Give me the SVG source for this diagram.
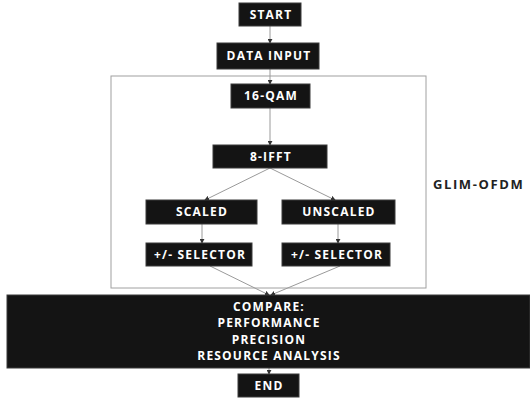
<svg xmlns="http://www.w3.org/2000/svg" width="530" height="403" viewBox="0 0 530 403">
<defs>
<style>
.box{fill:#141414;stroke:#3a3a3a;stroke-width:1}
.t{fill:#fff;font-family:"Open Sans","Liberation Sans",sans-serif;font-weight:bold;font-size:12px;letter-spacing:1.2px;text-anchor:middle}
.c{stroke:#9a9a9a;stroke-width:1;fill:none;marker-end:url(#ah)}
</style>
<marker id="ah" viewBox="0 0 6 6" refX="5" refY="3" markerWidth="5" markerHeight="5" orient="auto-start-reverse"><path d="M0,0 L6,3 L0,6 z" fill="#333"/></marker>
</defs>
<rect width="530" height="403" fill="#fff"/>
<rect id="container" x="111" y="76" width="315" height="212" fill="none" stroke="#a0a0a0" stroke-width="1"/>
<g id="connectors">
<path class="c" d="M270,26 V43"/>
<path class="c" d="M270,69 V84"/>
<path class="c" d="M270,108 V145"/>
<path class="c" d="M270,168 L205,200"/>
<path class="c" d="M270,168 L335,200"/>
<path class="c" d="M202,224 V243"/>
<path class="c" d="M338,224 V243"/>
<path class="c" d="M210,266 L269,295"/>
<path class="c" d="M340,266 L271,295"/>
<path class="c" d="M269,368 V374"/>
</g>
<g id="start"><rect class="box" x="239" y="3" width="62" height="23"/><text class="t" x="271" y="19">START</text></g>
<g id="data-input"><rect class="box" x="217" y="43" width="102" height="26"/><text class="t" x="269" y="60">DATA INPUT</text></g>
<g id="qam"><rect class="box" x="231" y="84" width="79" height="24"/><text class="t" x="271" y="100">16-QAM</text></g>
<g id="ifft"><rect class="box" x="213" y="145" width="114" height="23"/><text class="t" x="271" y="161">8-IFFT</text></g>
<g id="scaled"><rect class="box" x="146" y="200" width="111" height="24"/><text class="t" x="202" y="216">SCALED</text></g>
<g id="unscaled"><rect class="box" x="282" y="200" width="113" height="24"/><text class="t" x="339" y="216">UNSCALED</text></g>
<g id="sel-left"><rect class="box" x="146" y="243" width="106" height="23"/><text class="t" x="200" y="259">+/- SELECTOR</text></g>
<g id="sel-right"><rect class="box" x="282" y="243" width="108" height="23"/><text class="t" x="337" y="259">+/- SELECTOR</text></g>
<g id="compare"><rect class="box" x="7" y="295" width="523" height="73"/>
<text class="t" x="269" y="311">COMPARE:</text>
<text class="t" x="269" y="327">PERFORMANCE</text>
<text class="t" x="269" y="344">PRECISION</text>
<text class="t" x="269" y="360">RESOURCE ANALYSIS</text></g>
<g id="end"><rect class="box" x="238" y="374" width="61" height="23"/><text class="t" x="269" y="390">END</text></g>
<text id="glim" x="433" y="189" font-family="'Open Sans','Liberation Sans',sans-serif" font-weight="bold" font-size="13" letter-spacing="1.6" fill="#222">GLIM-OFDM</text>
</svg>
